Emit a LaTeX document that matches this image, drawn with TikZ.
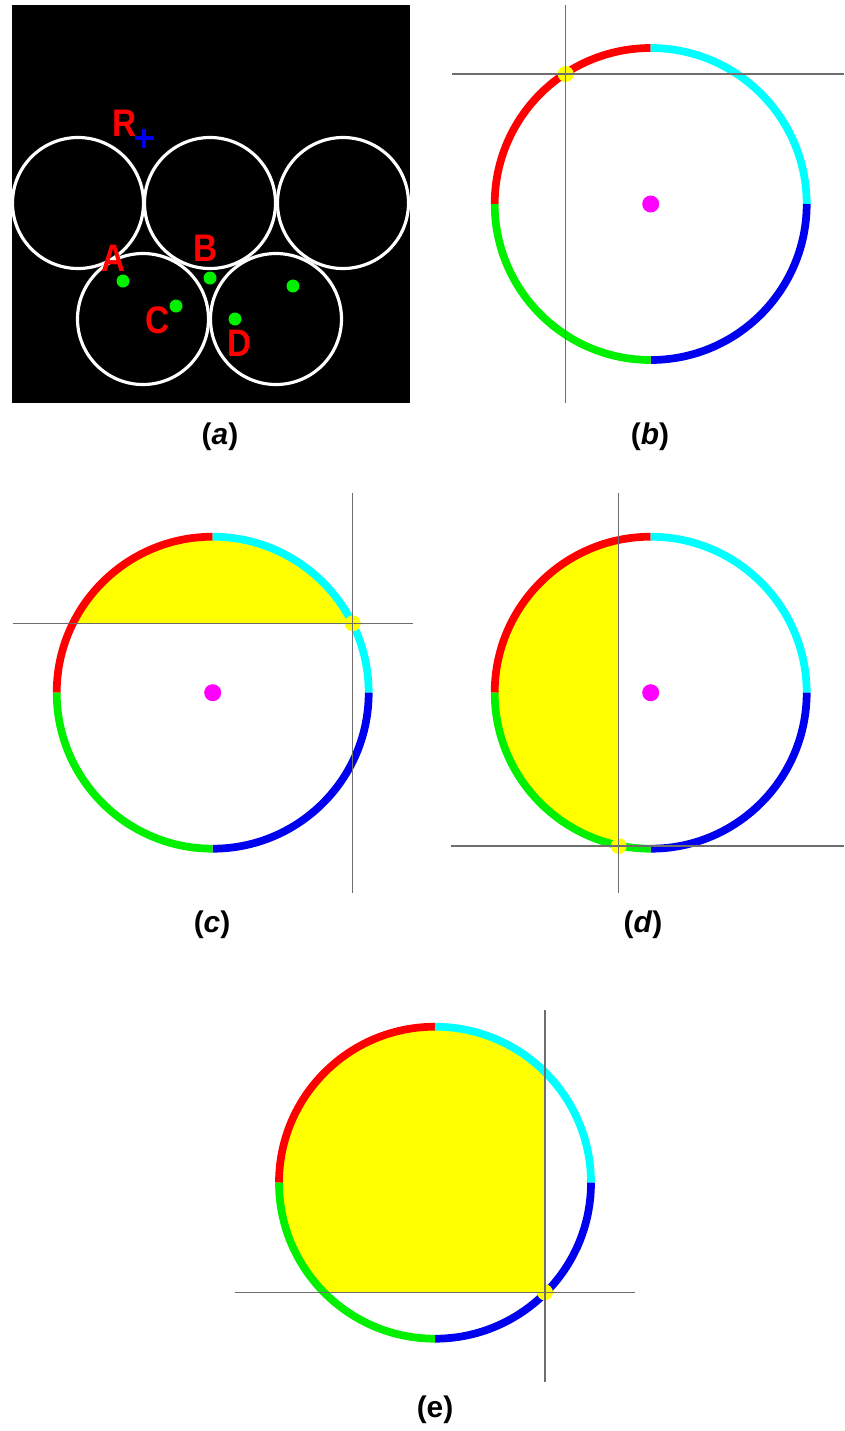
\documentclass[tikz,border=0pt]{standalone}
\usepackage{fontspec}
\setsansfont{Liberation Sans}
\usepackage{tikz}
\definecolor{ringred}{HTML}{FF0000}
\definecolor{ringcyan}{HTML}{00FFFF}
\definecolor{ringblue}{HTML}{0000F0}
\definecolor{ringgreen}{HTML}{00F000}
\definecolor{hityellow}{HTML}{FFFF00}
\definecolor{centremag}{HTML}{FF00FF}
\definecolor{axisgrey}{HTML}{6E6E6E}
\tikzset{
  ring/.style={line width=4.4pt},
  axis/.style={axisgrey,line width=0.85pt},
  lbl/.style={text=ringred,font=\sffamily\bfseries\fontsize{19}{20}\selectfont,inner sep=0pt,yscale=1.15},
  caption/.style={font=\sffamily\bfseries\fontsize{17}{20}\selectfont,inner sep=0pt}
}
% four coloured quarters of the ring around a centre
\newcommand{\quadring}[1]{%
  \draw[ring,ringred]   (#1) ++(180:156) arc[start angle=180,end angle=270,radius=156];
  \draw[ring,ringcyan]  (#1) ++(270:156) arc[start angle=270,end angle=360,radius=156];
  \draw[ring,ringblue]  (#1) ++(0:156)   arc[start angle=0,end angle=90,radius=156];
  \draw[ring,ringgreen] (#1) ++(90:156)  arc[start angle=90,end angle=180,radius=156];
}
\begin{document}
\begin{tikzpicture}[x=0.02cm,y=-0.02cm]
    \fill[white] (0,0) rectangle (844,1431);

    % (a)
    \fill[black] (12,5) rectangle (410,403);
    \foreach \cx/\cy in {78/203,210/203,343/203,143/319,276/319}
        \draw[white,line width=1.8pt] (\cx,\cy) circle (65.5);
    \foreach \px/\py in {123/281,210/278,176/306,235/319,293/286}
        \fill[ringgreen] (\px,\py) circle (6.5);
    \draw[ringblue,line width=2.8pt] (134.5,138) -- (153.5,138) (144,128.5) -- (144,147.5);
    \node[lbl] (lblR) at (125,123) {R};
    \node[lbl] (lblA) at (114,258) {A};
    \node[lbl] (lblB) at (206,248) {B};
    \node[lbl] (lblC) at (158,320) {C};
    \node[lbl] (lblD) at (240,343) {D};
    \node[caption] (capa) at (220,437) {(\textit{a})};

    % (b)
    \coordinate (cb) at (650.7,204);
    \quadring{cb}
    \fill[centremag] (cb) circle (8.5);
    \fill[hityellow] (565.7,74) circle (8);
    \draw[axis] (565.7,5) -- (565.7,403);
    \draw[axis] (452,74) -- (844,74);
    \node[caption] (capb) at (650,437) {(\textit{b})};

    % (c)
    \coordinate (cc) at (212.7,692.7);
    \begin{scope}
        \clip (cc) circle (156);
        \fill[hityellow] (40,520) rectangle (380,623.3);
    \end{scope}
    \quadring{cc}
    \fill[centremag] (cc) circle (8.5);
    \fill[hityellow] (352.7,623.3) circle (8);
    \draw[axis] (352.7,493) -- (352.7,893);
    \draw[axis] (13,623.3) -- (413,623.3);
    \node[caption] (capc) at (212,925) {(\textit{c})};

    % (d)
    \coordinate (cd) at (650.7,692.7);
    \begin{scope}
        \clip (cd) circle (156);
        \fill[hityellow] (480,520) rectangle (618.7,860);
    \end{scope}
    \quadring{cd}
    \fill[centremag] (cd) circle (8.5);
    \fill[hityellow] (618.7,846) circle (8);
    \draw[axis] (618.7,493) -- (618.7,893);
    \draw[axis] (451,846) -- (844,846);
    \node[caption] (capd) at (643,925) {(\textit{d})};

    % (e)
    \coordinate (ce) at (435,1182.7);
    \begin{scope}
        \clip (ce) circle (156);
        \fill[hityellow] (270,1020) rectangle (545,1292.3);
    \end{scope}
    \quadring{ce}
    \fill[hityellow] (545,1292.3) circle (8);
    \draw[axis] (545,1010) -- (545,1382);
    \draw[axis] (235,1292.3) -- (635,1292.3);
    \node[caption] (cape) at (435,1410) {(e)};
\end{tikzpicture}
\end{document}
